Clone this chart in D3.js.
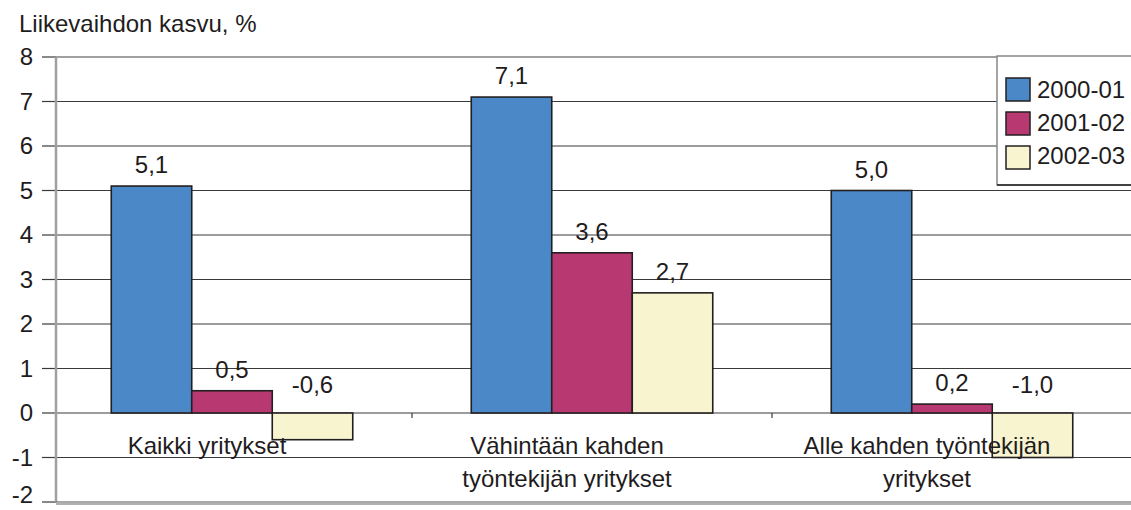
<!DOCTYPE html>
<html>
<head>
<meta charset="utf-8">
<script src="https://cdn.jsdelivr.net/npm/d3@7"></script>
<style>
  body { margin: 0; background: #fff; }
  text { font-family: "Liberation Sans", Arial, sans-serif; fill: #1f1c1d; }
</style>
</head>
<body>
<svg width="1131" height="510"></svg>
<script>
// data
var categories = ["Kaikki yritykset", "Vähintään kahden työntekijän yritykset", "Alle kahden työntekijän yritykset"];
var catLines = [["Kaikki yritykset"], ["Vähintään kahden", "työntekijän yritykset"], ["Alle kahden työntekijän", "yritykset"]];
var seriesNames = ["2000-01", "2001-02", "2002-03"];
var s2000 = [5.1, 7.1, 5.0];
var s2001 = [0.5, 3.6, 0.2];
var s2002 = [-0.6, 2.7, -1.0];
var yTicks = [-2, -1, 0, 1, 2, 3, 4, 5, 6, 7, 8];
var colors = ["#4a88c7", "#b83872", "#f8f4d0"];

var allSeries = [s2000, s2001, s2002];

var svg = d3.select("svg");
var fs = 24;

var y = d3.scaleLinear().domain([-2, 8]).range([502, 57]);
var x = d3.scaleBand().domain(categories).range([52, 1132]).padding(0);
var xs = d3.scaleBand().domain(seriesNames).range([0, x.bandwidth()]).paddingInner(0).paddingOuter(0.736);

var left = 56;
var right = 1131;

// title
svg.append("text").attr("x", 19).attr("y", 32).attr("font-size", fs).text("Liikevaihdon kasvu, %");

// gridlines
svg.append("g").selectAll("line")
    .data(yTicks.filter(d => d > -2 && d < 8))
    .enter().append("line")
    .attr("x1", left).attr("x2", right)
    .attr("y1", d => y(d)).attr("y2", d => y(d))
    .attr("stroke", "#3a3a3a").attr("stroke-width", 1.2);

// y ticks
svg.append("g").selectAll("line")
    .data(yTicks)
    .enter().append("line")
    .attr("x1", 42).attr("x2", left)
    .attr("y1", d => y(d)).attr("y2", d => y(d))
    .attr("stroke", "#3a3a3a").attr("stroke-width", 1.2);

// the bottom label sits a little higher so it stays inside the page
svg.append("g").selectAll("text")
    .data(yTicks)
    .enter().append("text")
    .attr("x", 33).attr("y", d => Math.min(y(d) + 8, 503))
    .attr("text-anchor", "end")
    .attr("font-size", fs)
    .text(d => d);

// plot frame
svg.append("line").attr("x1", left).attr("x2", right).attr("y1", y(8)).attr("y2", y(8))
    .attr("stroke", "#a0a0a0").attr("stroke-width", 2);
svg.append("line").attr("x1", left).attr("x2", left).attr("y1", y(8)).attr("y2", y(-2))
    .attr("stroke", "#a0a0a0").attr("stroke-width", 2.5);
svg.append("line").attr("x1", left).attr("x2", right).attr("y1", y(-2)).attr("y2", y(-2))
    .attr("stroke", "#555").attr("stroke-width", 1.2);
svg.append("line").attr("x1", left).attr("x2", right).attr("y1", y(-2) + 2).attr("y2", y(-2) + 2)
    .attr("stroke", "#b0b0b0").attr("stroke-width", 2);

// x ticks on zero line
svg.append("g").selectAll("line")
    .data(categories.slice(1))
    .enter().append("line")
    .attr("x1", d => x(d)).attr("x2", d => x(d))
    .attr("y1", y(0)).attr("y2", y(0) + 5)
    .attr("stroke", "#3a3a3a").attr("stroke-width", 1.2);

// bars
var groups = svg.append("g").selectAll("g")
    .data(categories)
    .enter().append("g")
    .attr("transform", d => "translate(" + x(d) + ",0)");

var barData = (d, i) => seriesNames.map((s, j) => ({ s: s, j: j, v: allSeries[j][i] }));

groups.selectAll("rect")
    .data(barData)
    .enter().append("rect")
    .attr("x", d => xs(d.s))
    .attr("width", xs.bandwidth())
    .attr("y", d => y(Math.max(0, d.v)))
    .attr("height", d => Math.abs(y(d.v) - y(0)))
    .attr("fill", d => colors[d.j])
    .attr("stroke", "#231f20").attr("stroke-width", 1.6);

groups.selectAll("text.val")
    .data(barData)
    .enter().append("text")
    .attr("class", "val")
    .attr("x", d => xs(d.s) + xs.bandwidth() / 2)
    .attr("y", d => d.v >= 0 ? y(d.v) - 13 : y(0) - 20)
    .attr("text-anchor", "middle")
    .attr("font-size", fs)
    .text(d => d3.format(".1f")(d.v).replace(".", ",").replace("−", "-"));

// category labels
groups.each(function (d, i) {
    var g = d3.select(this);
    catLines[i].forEach((ln, k) => {
        g.append("text")
            .attr("x", x.bandwidth() / 2 - 25)
            .attr("y", 454 + k * 33)
            .attr("text-anchor", "middle")
            .attr("font-size", fs)
            .text(ln);
    });
});

// legend
var lg = svg.append("g");
lg.append("rect").attr("x", 997).attr("y", 56).attr("width", 150).attr("height", 129)
    .attr("fill", "#fff").attr("stroke", "#888").attr("stroke-width", 1.5);
lg.append("line").attr("x1", 997).attr("x2", 1131).attr("y1", 185).attr("y2", 185)
    .attr("stroke", "#231f20").attr("stroke-width", 1.5);
seriesNames.forEach((s, j) => {
    lg.append("rect").attr("x", 1006).attr("y", 78 + j * 34).attr("width", 24).attr("height", 23)
        .attr("fill", colors[j]).attr("stroke", "#231f20").attr("stroke-width", 1.5);
    lg.append("text").attr("x", 1037).attr("y", 98 + j * 33).attr("font-size", fs).text(s);
});
</script>
</body>
</html>
